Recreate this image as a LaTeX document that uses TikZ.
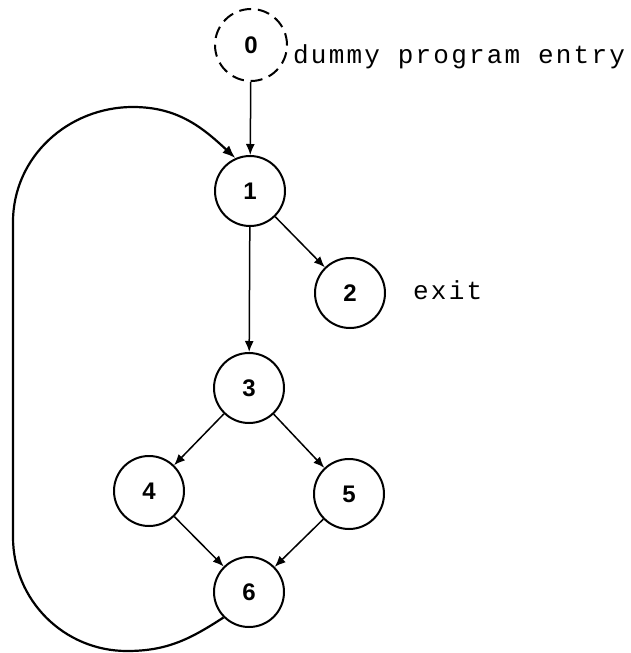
\documentclass[tikz,border=0pt]{standalone}
\usepackage{fontspec}
\setmainfont{Liberation Sans}
\newfontfamily\typewfont[LetterSpace=8.5]{Liberation Mono}
\usetikzlibrary{arrows.meta}
\begin{document}
\begin{tikzpicture}[x=1pt,y=1pt,
  block/.style={circle,draw,line width=2pt,minimum size=70pt,inner sep=0pt,
    font=\bfseries\fontsize{24}{24}\selectfont},
  entry/.style={block,minimum size=72pt,dash pattern=on 12pt off 6.8pt},
  edge/.style={line width=1.5pt,-{Latex[length=11pt,width=9pt]}},
  back/.style={line width=2.2pt,-{Latex[length=13pt,width=10pt]}},
  remark/.style={anchor=base west,inner sep=0pt,
    font=\typewfont\fontsize{26}{26}\selectfont}]
\useasboundingbox (0,0) rectangle (631,-653);

\node[entry] (n0) at (251,-45)  {0};
\node[block] (n1) at (250,-191) {1};
\node[block] (n2) at (350,-293) {2};
\node[block] (n3) at (249,-388) {3};
\node[block] (n4) at (149,-491) {4};
\node[block] (n5) at (349,-494) {5};
\node[block] (n6) at (249,-592) {6};

\node[remark] (t0) at (293,-63)  {dummy program entry};
\node[remark] (t2) at (413,-299) {exit};

\draw[edge] (n0) -- (n1);
\draw[edge] (n1) -- (n2);
\draw[edge] (n1) -- (n3);
\draw[edge] (n3) -- (n4);
\draw[edge] (n3) -- (n5);
\draw[edge] (n4) -- (n6);
\draw[edge] (n5) -- (n6);

% loop back from 6 to 1 around the left side
\draw[back] (n6.225) to[out=213,in=0] (127,-651)
  to[out=180,in=-90] (13,-537) -- (13,-222)
  to[out=90,in=180] (133,-107)
  to[out=0,in=137] (n1.114);
\end{tikzpicture}
\end{document}
